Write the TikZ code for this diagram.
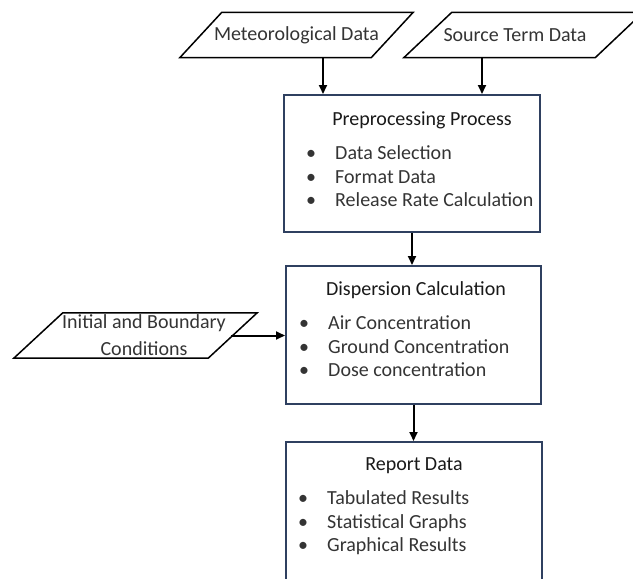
\documentclass[tikz,border=0pt]{standalone}
\usepackage{fontspec}
\setmainfont{Carlito}
\usetikzlibrary{arrows.meta,positioning}
\definecolor{boxblue}{RGB}{47,64,96}
\definecolor{textgray}{RGB}{52,52,52}

\begin{document}
\begin{tikzpicture}[x=1pt,y=-1pt,
  procbox/.style={draw=boxblue,line width=2pt,minimum width=256pt,minimum height=138pt,inner sep=0pt},
  datain/.style={minimum height=45pt,inner sep=0pt,text=textgray,align=center,
    font=\fontsize{20}{27}\selectfont},
  dataedge/.style={line width=1.5pt,line join=miter},
  boxtitle/.style={anchor=base,inner sep=0pt,text=black!90,font=\fontsize{20}{24}\selectfont},
  boxitem/.style={anchor=base west,inner sep=0pt,text=textgray,font=\fontsize{20}{24}\selectfont,
    execute at begin node={\llap{\textbullet\hspace{19pt}}}},
  flow/.style={line width=2pt,-{Triangle[length=9pt,width=8pt]}}]
  \clip (0,0) rectangle (633,579);
  % input data
  \node[datain,minimum width=233pt] (met) at (296.5,35) {Meteorological Data};
  \node[datain,minimum width=239pt] (src) at (515,35) {Source Term Data};
  \node[datain,minimum width=243pt] (init) at (144,335.5) {Initial and Boundary\\Conditions};
  % slant and offset of each parallelogram
  \foreach \n/\s/\o in {met/42/0,src/48/8.5,init/49/-8.5}
    \draw[dataedge] ([xshift=\o pt]\n.south west) -- ([xshift=\o pt+\s pt]\n.north west)
      -- ([xshift=\o pt]\n.north east) -- ([xshift=\o pt-\s pt]\n.south east) -- cycle;
  % process boxes
  \node[procbox,minimum height=137pt] (prep) at (412,163.5) {};
  \node[procbox,minimum width=255pt] (disp) at (413.5,335) {};
  \node[procbox,minimum height=170pt] (rep) at (414,527) {};
  \node[boxtitle] (prep-title) at ([xshift=10pt,yshift=-31.5pt]prep.north) {Preprocessing Process};
  \node[boxtitle] (disp-title) at ([xshift=2.5pt,yshift=-30.5pt]disp.north) {Dispersion Calculation};
  \node[boxtitle] (rep-title) at ([yshift=-29.5pt]rep.north) {Report Data};
  \foreach \t [count=\i] in {Data Selection,Format Data,Release Rate Calculation}
    \node[boxitem] (prep-\i) at ([xshift=52pt,yshift={-65.5pt-23.5pt*(\i-1)}]prep.north west) {\t};
  \foreach \t [count=\i] in {Air Concentration,Ground Concentration,Dose concentration}
    \node[boxitem] (disp-\i) at ([xshift=43pt,yshift={-64.5pt-23.5pt*(\i-1)}]disp.north west) {\t};
  \foreach \t [count=\i] in {Tabulated Results,Statistical Graphs,Graphical Results}
    \node[boxitem] (rep-\i) at ([xshift=42pt,yshift={-63.5pt-23.5pt*(\i-1)}]rep.north west) {\t};
  % connectors
  \coordinate (metfoot) at ([xshift=26.5pt]met.south);
  \coordinate (srcfoot) at ([xshift=-33pt]src.south);
  \coordinate (initside) at ([xshift=-35pt]init.east);
  \draw[flow] (metfoot) -- (metfoot |- prep.north);
  \draw[flow] (srcfoot) -- (srcfoot |- prep.north);
  \draw[flow] (prep.south) -- (prep.south |- disp.north);
  \draw[flow] (initside) -- (initside -| disp.west);
  \draw[flow] (disp.south) -- (disp.south |- rep.north);
\end{tikzpicture}
\end{document}
